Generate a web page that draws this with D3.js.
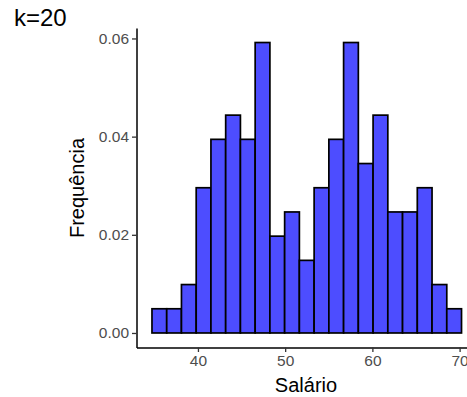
<!DOCTYPE html>
<html>
<head>
  <meta charset="utf-8">
  <title>k=20</title>
  <style>
    body { margin: 0; background: #fff; font-family: "Liberation Sans", Arial, sans-serif; }
    svg { display: block; }
    .axis text { fill: #4d4d4d; font-size: 15.5px; font-family: "Liberation Sans", Arial, sans-serif; }
    .axis line { stroke: #333; stroke-width: 1.3px; }
    .axis path { stroke: #000; stroke-width: 1.5px; }
    .bar { fill: #4d4dff; stroke: #000; stroke-width: 1.7px; }
    .title { font-size: 24px; fill: #000; }
    .axis-title { font-size: 20px; fill: #000; }
  </style>
</head>
<body>
  <svg width="467" height="397"></svg>

  <script src="https://d3js.org/d3.v7.min.js"></script>
  <script>
    // histogram: 21 bins of equal width
    var binStart = 34.73;
    var binWidth = 1.69;
    var counts = [1, 1, 2, 6, 8, 9, 8, 12, 4, 5, 3, 6, 8, 12, 7, 9, 5, 5, 6, 2, 1];
    var xTicks = [40, 50, 60, 70];
    var yTicks = [0, 0.02, 0.04, 0.06];

    var total = d3.sum(counts);
    var bins = counts.map(function(c, i) {
      return {
        x0: binStart + i * binWidth,
        x1: binStart + (i + 1) * binWidth,
        density: c / (total * binWidth)
      };
    });

    var svg = d3.select('svg');

    // ggplot style 5% expansion on both axes
    var xLo = binStart, xHi = binStart + counts.length * binWidth;
    var xPad = (xHi - xLo) * 0.05;
    var x = d3.scaleLinear()
      .domain([xLo - xPad, xHi + xPad])
      .range([136.5, 477]);

    var yMax = d3.max(bins, function(d) { return d.density; });
    var yPad = yMax * 0.05;
    var y = d3.scaleLinear()
      .domain([-yPad, yMax + yPad])
      .range([347.5, 28]);

    svg.selectAll('rect.bar')
      .data(bins)
      .enter().append('rect')
      .attr('class', 'bar')
      .attr('x', function(d) { return x(d.x0); })
      .attr('width', function(d) { return x(d.x1) - x(d.x0); })
      .attr('y', function(d) { return y(d.density); })
      .attr('height', function(d) { return y(0) - y(d.density); });

    svg.append('g')
      .attr('class', 'axis')
      .attr('transform', 'translate(0,' + y.range()[0] + ')')
      .call(d3.axisBottom(x).tickValues(xTicks).tickSize(4.5).tickSizeOuter(0).tickPadding(3));

    svg.append('g')
      .attr('class', 'axis')
      .attr('transform', 'translate(' + x.range()[0] + ',0)')
      .call(d3.axisLeft(y).tickValues(yTicks).tickFormat(d3.format('.2f')).tickSize(4.5).tickSizeOuter(0).tickPadding(3));

    svg.append('text')
      .attr('class', 'title')
      .attr('x', 14)
      .attr('y', 26)
      .text('k=20');

    svg.append('text')
      .attr('class', 'axis-title')
      .attr('x', 306)
      .attr('y', 392)
      .attr('text-anchor', 'middle')
      .text('Salário');

    svg.append('text')
      .attr('class', 'axis-title')
      .attr('transform', 'translate(84,188) rotate(-90)')
      .attr('text-anchor', 'middle')
      .text('Frequência');
  </script>
</body>
</html>
